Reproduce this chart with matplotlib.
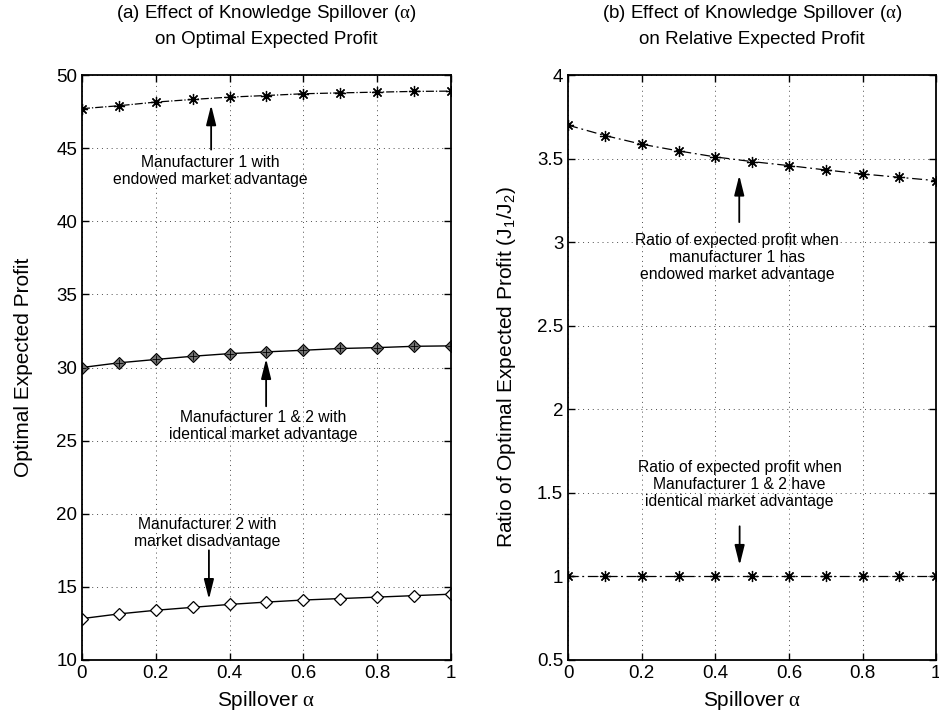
import numpy as np
from matplotlib import pyplot as plt

plt.rcParams['font.family'] = ['Liberation Sans', 'DejaVu Sans']
plt.rcParams['mathtext.fontset'] = 'custom'
plt.rcParams['mathtext.rm'] = 'Liberation Sans'
plt.rcParams['mathtext.it'] = 'Liberation Serif'
plt.rcParams['mathtext.bf'] = 'Liberation Sans:bold'

# Spillover values
alpha = [0, 0.1, 0.2, 0.3, 0.4, 0.5, 0.6, 0.7, 0.8, 0.9, 1.0]

# (a) Optimal expected profit
m1_endowed = [47.7, 47.9, 48.15, 48.33, 48.49, 48.6, 48.72, 48.78, 48.83, 48.88, 48.9]
m12_identical = [30.0, 30.32, 30.55, 30.77, 30.95, 31.07, 31.18, 31.3, 31.36, 31.45, 31.48]
m2_disadv = [12.83, 13.15, 13.4, 13.6, 13.8, 13.96, 14.1, 14.2, 14.3, 14.4, 14.5]

# (b) Relative expected profit J1/J2
ratio_endowed = [3.70, 3.638, 3.586, 3.546, 3.51, 3.482, 3.458, 3.432, 3.408, 3.388, 3.368]
ratio_identical = [1, 1, 1, 1, 1, 1, 1, 1, 1, 1, 1]

xticks = [0, 0.2, 0.4, 0.6, 0.8, 1]
yticks_a = [10, 15, 20, 25, 30, 35, 40, 45, 50]
yticks_b = [0.5, 1, 1.5, 2, 2.5, 3, 3.5, 4]

fig = plt.figure(figsize=(9.39, 7.18), dpi=100)
ax1 = fig.add_axes([0.0873, 0.0808, 0.393, 0.8147])
ax2 = fig.add_axes([0.605, 0.0808, 0.392, 0.8147])

star = (8, 2, 0)


def style(ax):
    ax.set_xlim(0, 1)
    ax.set_xticks(xticks)
    ax.set_xticklabels(['0', '0.2', '0.4', '0.6', '0.8', '1'])
    ax.grid(True, color='0.3', linestyle=(0, (1, 4)), linewidth=0.7)
    ax.tick_params(direction='in', top=True, right=True, labelsize=13.5, length=5, width=1)
    for s in ax.spines.values():
        s.set_linewidth(1.3)
    ax.set_xlabel(r'Spillover $\alpha$', fontsize=15, labelpad=5)


arrow = dict(arrowstyle='-|>,head_length=1.2,head_width=0.3', color='black', lw=1.3,
             shrinkA=0, shrinkB=0)
txt = dict(ha='center', va='center', fontsize=11.3, linespacing=1.15)

# ---- (a)
ax1.plot(alpha, m1_endowed, color='black', linestyle='-.', linewidth=0.9,
         marker=star, markersize=8, markeredgewidth=0.9)
ax1.plot(alpha, m12_identical, color='black', linestyle='-', linewidth=1.0,
         marker='D', markersize=6, markerfacecolor='0.45', markeredgecolor='black',
         markeredgewidth=0.8)
ax1.plot(alpha, m12_identical, color='none', linestyle='none', marker='+',
         markersize=6, markeredgecolor='black', markeredgewidth=0.6)
ax1.plot(alpha, m2_disadv, color='black', linestyle='-', linewidth=1.0,
         marker='D', markersize=6, markerfacecolor='white', markeredgecolor='black',
         markeredgewidth=0.9)
style(ax1)
ax1.set_ylim(10, 50)
ax1.set_yticks(yticks_a)
ax1.set_ylabel('Optimal Expected Profit', fontsize=15, labelpad=17)
ax1.set_title('(a) Effect of Knowledge Spillover ($\\alpha$)\non Optimal Expected Profit',
              fontsize=13.5, pad=22, linespacing=1.55)

ax1.annotate('', xy=(0.35, 47.95), xytext=(0.35, 44.9), arrowprops=arrow)
ax1.text(0.347, 43.45, 'Manufacturer 1 with\nendowed market advantage', **txt)
ax1.annotate('', xy=(0.499, 30.6), xytext=(0.499, 27.35), arrowprops=arrow)
ax1.text(0.49, 26.0, 'Manufacturer 1 & 2 with\nidentical market advantage', **txt)
ax1.annotate('', xy=(0.344, 14.15), xytext=(0.344, 17.5), arrowprops=arrow)
ax1.text(0.34, 18.66, 'Manufacturer 2 with\nmarket disadvantage', **txt)

# ---- (b)
ax2.plot(alpha, ratio_endowed, color='black', linestyle=(0, (8, 3, 1.5, 3)), linewidth=0.9,
         marker=star, markersize=8, markeredgewidth=0.9)
ax2.plot(alpha, ratio_identical, color='black', linestyle=(0, (8, 3, 1.5, 3)), linewidth=0.9,
         marker=star, markersize=8, markeredgewidth=0.9)
style(ax2)
ax2.set_ylim(0.5, 4)
ax2.set_yticks(yticks_b)
ax2.set_yticklabels(['0.5', '1', '1.5', '2', '2.5', '3', '3.5', '4'])
ax2.set_ylabel('Ratio of Optimal Expected Profit (J$_1$/J$_2$)', fontsize=15, labelpad=14)
ax2.set_title('(b) Effect of Knowledge Spillover ($\\alpha$)\non Relative Expected Profit',
              fontsize=13.5, pad=22, linespacing=1.55)

ax2.annotate('', xy=(0.465, 3.40), xytext=(0.465, 3.12), arrowprops=arrow)
ax2.text(0.46, 2.91, 'Ratio of expected profit when\nmanufacturer 1 has\nendowed market advantage', **txt)
ax2.annotate('', xy=(0.466, 1.067), xytext=(0.466, 1.30), arrowprops=arrow)
ax2.text(0.466, 1.55, 'Ratio of expected profit when\nManufacturer 1 & 2 have\nidentical market advantage', **txt)

fig.savefig('out.png', dpi=100)
